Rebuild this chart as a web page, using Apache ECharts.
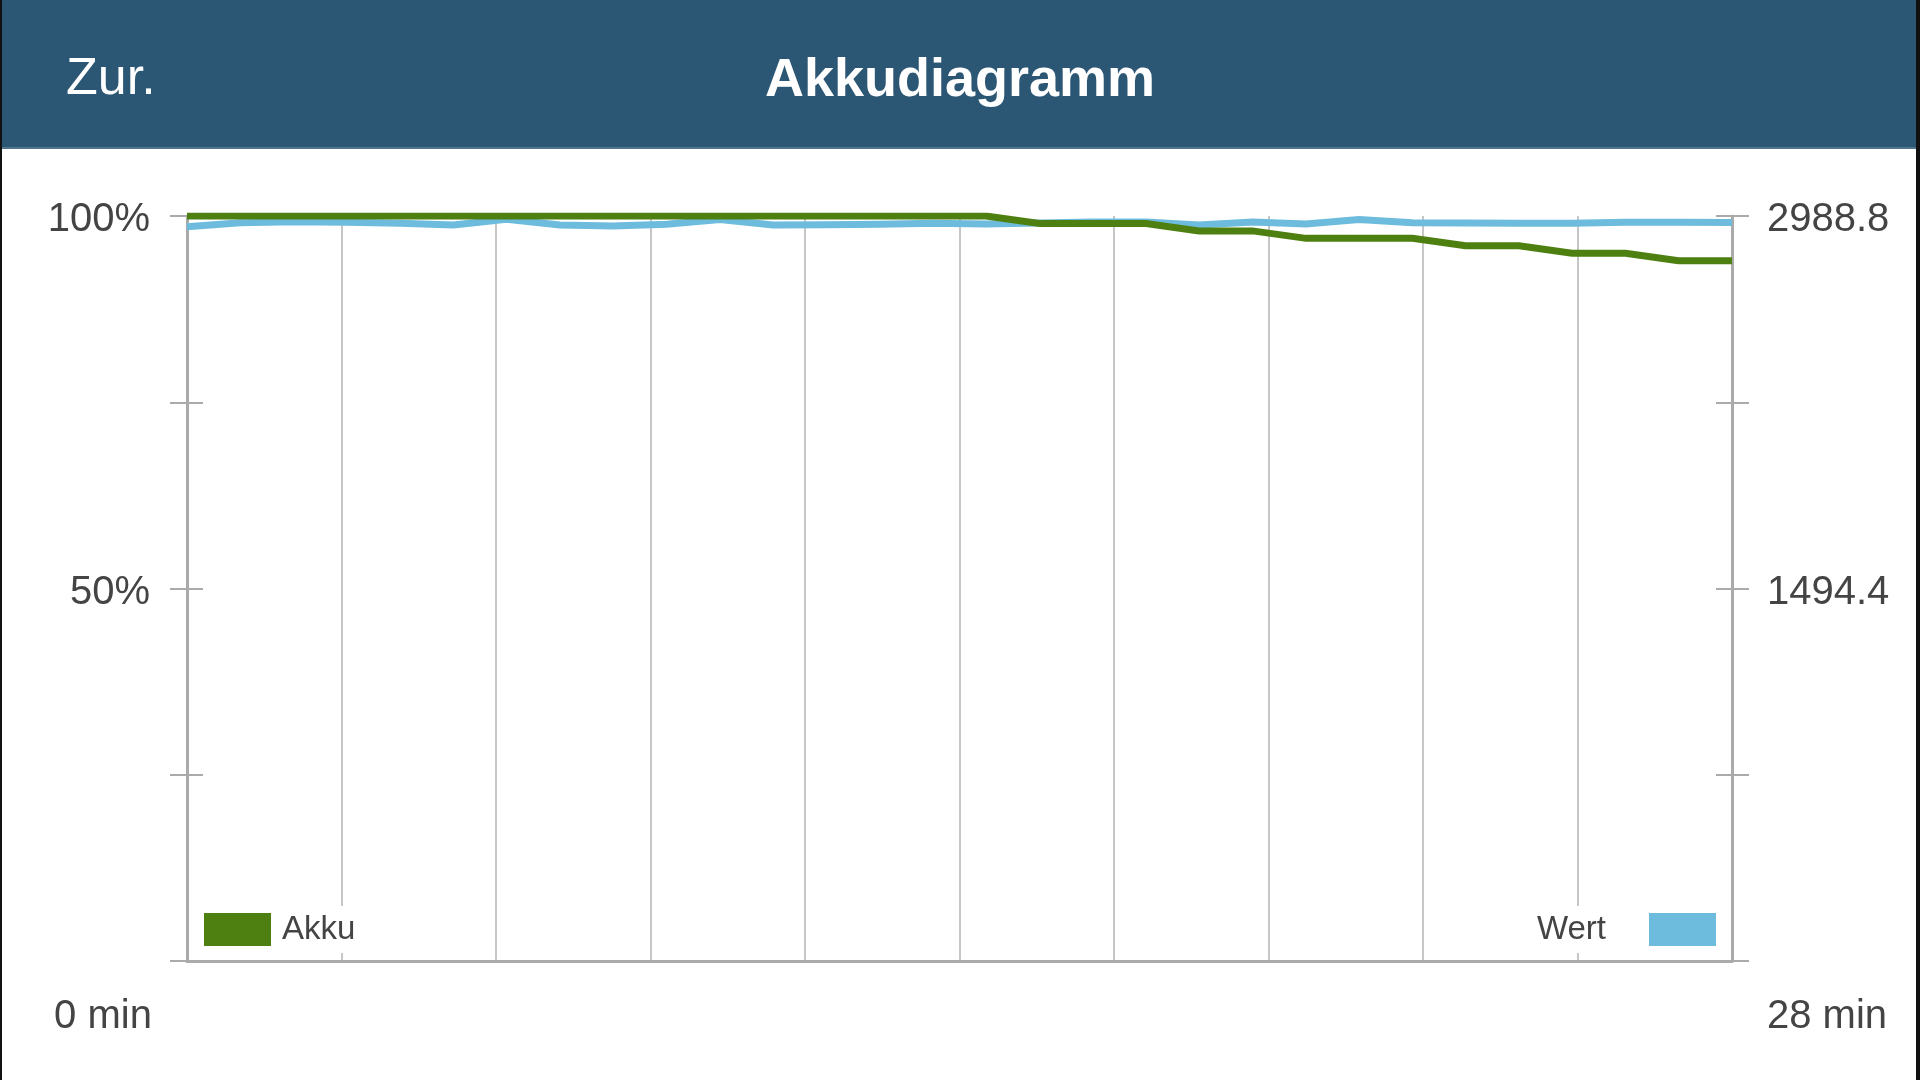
<!DOCTYPE html>
<html>
<head>
<meta charset="utf-8">
<script src="https://cdn.jsdelivr.net/npm/echarts@6/dist/echarts.min.js"></script>
<style>
html,body{margin:0;padding:0;background:#fff;}
#c{width:1920px;height:1080px;}
</style>
</head>
<body>
<div id="c"></div>
<script>
// ---- data ----
const times = [0, 0.97, 1.93, 2.90, 3.86, 4.83, 5.79, 6.76, 7.72, 8.69, 9.66, 10.62, 11.59, 12.55, 13.52, 14.48, 15.45, 16.41, 17.38, 18.34, 19.31, 20.28, 21.24, 22.21, 23.17, 24.14, 25.10, 26.07, 27.03, 28];
const akku = [100, 100, 100, 100, 100, 100, 100, 100, 100, 100, 100, 100, 100, 100, 100, 100, 99, 99, 99, 98, 98, 97, 97, 97, 96, 96, 95, 95, 94, 94];
const wert = [2946, 2962, 2966, 2964, 2960, 2953, 2976, 2953, 2949, 2956, 2975, 2953, 2954, 2956, 2960, 2957, 2961, 2965, 2965, 2953, 2965, 2957, 2975, 2962, 2961, 2960, 2960, 2964, 2964, 2963];
const leftLabelValues = [50, 100];
const rightLabelValues = [1494.4, 2988.8];
const xLabelFirst = '0 min';
const xLabelLast = '28 min';
const titleText = 'Akkudiagramm';
const backText = 'Zur.';

const GREEN = '#4e8011';
const BLUE = '#6dbcdd';
const AXIS = '#aaaaaa';
const GRID = '#c6c6c6';
const TXT = '#444444';
const FONT = '"Liberation Sans", Arial, sans-serif';

const akkuData = times.map((t, i) => [t, akku[i]]);
const wertData = times.map((t, i) => [t, wert[i]]);

const near = (a, b) => Math.abs(a - b) < 1e-6;
const labelRich = {v: {fontSize: 40, color: TXT, fontFamily: FONT, padding: [8, 0, 0, 0]}};

const chart = echarts.init(document.getElementById('c'), null, {renderer: 'canvas'});
chart.setOption({
  animation: false,
  backgroundColor: '#ffffff',
  graphic: [
    {type: 'rect', left: 0, top: 0, z: -10, shape: {width: 1920, height: 148}, style: {fill: '#2b5674'}},
    {type: 'rect', left: 0, top: 147, z: -9, shape: {width: 1920, height: 2}, style: {fill: '#4f7590'}},
    {type: 'rect', left: 0, top: 0, z: 100, shape: {width: 2, height: 1080}, style: {fill: '#111'}},
    {type: 'rect', left: 1916, top: 0, z: 100, shape: {width: 4, height: 1080}, style: {fill: '#111'}}
  ],
  title: [
    {text: titleText, left: 'center', top: 49, textStyle: {color: '#fff', fontSize: 54, fontWeight: 'bold', fontFamily: FONT}},
    {text: backText, left: 61, top: 49, textStyle: {color: '#fff', fontSize: 52, fontWeight: 'normal', fontFamily: FONT}}
  ],
  legend: [
    {
      data: ['Akku'], left: 204, top: 906, padding: 0, orient: 'horizontal', selectedMode: false,
      itemWidth: 67, itemHeight: 33, icon: 'rect',
      textStyle: {color: TXT, fontSize: 33, fontFamily: FONT, backgroundColor: '#fff', padding: [12, 2, 2, 6]}
    },
    {
      data: ['Wert'], right: 204, top: 906, padding: 0, orient: 'horizontal', align: 'right', selectedMode: false,
      itemWidth: 67, itemHeight: 33, icon: 'rect',
      textStyle: {color: TXT, fontSize: 33, fontFamily: FONT, backgroundColor: '#fff', padding: [12, 38, 2, 2]}
    }
  ],
  grid: {left: 187, right: 188, top: 216, bottom: 119, containLabel: false},
  xAxis: {
    type: 'value', min: 0, max: 28, interval: 2.8,
    axisLine: {show: true, lineStyle: {color: AXIS, width: 3}},
    axisTick: {show: false},
    splitLine: {show: true, lineStyle: {color: GRID, width: 2}},
    axisLabel: {
      show: true, margin: 36, color: TXT, fontSize: 40, fontFamily: FONT,
      formatter: v => near(v, 0) ? '{l|' + xLabelFirst + '}' : (near(v, 28) ? '{r|' + xLabelLast + '}' : ''),
      rich: {
        l: {fontSize: 40, color: TXT, fontFamily: FONT, padding: [0, 168, 0, 0]},
        r: {fontSize: 40, color: TXT, fontFamily: FONT, padding: [0, 0, 0, 190]}
      }
    }
  },
  yAxis: [
    {
      type: 'value', position: 'left', min: 0, max: 100, interval: 25,
      axisLine: {show: true, lineStyle: {color: AXIS, width: 3}},
      axisTick: {show: true, inside: false, length: 17, lineStyle: {color: AXIS, width: 2}},
      splitLine: {show: false},
      axisLabel: {
        margin: 37, color: TXT, fontSize: 40, fontFamily: FONT, rich: labelRich,
        formatter: v => leftLabelValues.some(x => near(x, v)) ? '{v|' + v + '%}' : ''
      }
    },
    {
      type: 'value', position: 'left', min: 0, max: 100, interval: 25,
      axisLine: {show: false},
      axisTick: {show: true, inside: true, length: 16, lineStyle: {color: AXIS, width: 2}},
      splitLine: {show: false},
      axisLabel: {show: false}
    },
    {
      type: 'value', position: 'right', min: 0, max: 2988.8, interval: 747.2,
      axisLine: {show: true, lineStyle: {color: AXIS, width: 3}},
      axisTick: {show: true, inside: false, length: 17, lineStyle: {color: AXIS, width: 2}},
      splitLine: {show: false},
      axisLabel: {
        margin: 35, color: TXT, fontSize: 40, fontFamily: FONT, rich: labelRich,
        formatter: v => {
          const hit = rightLabelValues.find(x => Math.abs(x - v) < 0.01);
          return hit !== undefined ? '{v|' + hit.toFixed(1) + '}' : '';
        }
      }
    },
    {
      type: 'value', position: 'right', min: 0, max: 2988.8, interval: 747.2,
      axisLine: {show: false},
      axisTick: {show: true, inside: true, length: 16, lineStyle: {color: AXIS, width: 2}},
      splitLine: {show: false},
      axisLabel: {show: false}
    }
  ],
  series: [
    {
      name: 'Wert', type: 'line', yAxisIndex: 2, data: wertData, showSymbol: false, z: 3,
      itemStyle: {color: BLUE},
      lineStyle: {color: BLUE, width: 7, join: 'miter'}
    },
    {
      name: 'Akku', type: 'line', yAxisIndex: 0, data: akkuData, showSymbol: false, z: 4,
      itemStyle: {color: GREEN},
      lineStyle: {color: GREEN, width: 7, join: 'miter'}
    }
  ]
});
</script>
</body>
</html>
